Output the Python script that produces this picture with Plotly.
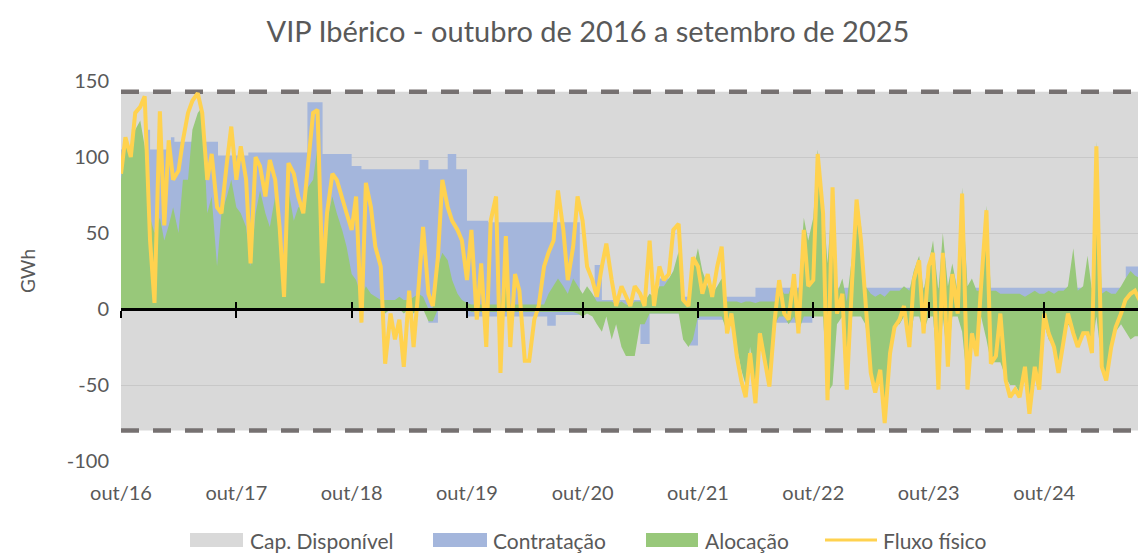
import pandas as pd
import plotly.graph_objects as go

# ---------------- data (GWh, semi-monthly readings) ----------------
start_date = "2016-10-01"
n_points = 216
dates = pd.date_range(start_date, periods=n_points, freq="SMS")

fluxo = [
    89, 113, 100, 129, 133, 140, 45, 4, 130, 55,
    111, 85, 91, 111, 129, 137, 142, 129, 85, 102,
    67, 63, 96, 120, 85, 107, 85, 30, 100, 94,
    74, 98, 85, 54, 8, 96, 89, 74, 63, 94,
    129, 131, 17, 63, 89, 85, 72, 63, 52, 74,
    -9, 83, 67, 41, 28, -36, -3, -20, -7, -38,
    12, -25, 15, 54, 10, 2, 34, 85, 67, 58,
    52, 45, 19, 52, -7, 30, -25, 58, 74, -42,
    48, -25, 23, 12, -34, -34, -7, 2, 28, 37,
    45, 78, 52, 19, 41, 74, 58, 28, 19, 8,
    28, 43, 19, 2, 15, 8, 2, 15, 10, 2,
    45, 2, 28, 19, 23, 52, 56, 6, 2, 34,
    28, 10, 23, 8, 28, 41, -16, -3, -31, -47,
    -58, -29, -62, -16, -36, -51, -7, 19, -3, -7,
    23, -16, 52, 15, 19, 102, 63, -60, 80, -3,
    10, -53, 19, 72, 45, 8, -42, -55, -40, -75,
    -29, -12, -7, 2, -25, 19, 32, -16, 28, 37,
    -53, 37, -38, 23, -3, 76, -53, -16, -31, 15,
    65, -36, -31, -3, -47, -58, -53, -58, -38, -69,
    -38, -53, -3, -16, -25, -42, -20, -3, -16, -25,
    -16, -16, -29, 107, -38, -47, -25, -12, -3, 6,
    10, 12, 5, -25, -10, 5,
]

alocacao_pos = [
    85, 107, 107, 118, 124, 107, 60, 50, 60, 45,
    55, 67, 50, 85, 85, 118, 129, 133, 63, 74,
    28, 63, 74, 85, 67, 63, 54, 28, 63, 78,
    63, 54, 74, 52, 15, 78, 58, 67, 67, 80,
    85, 107, 28, 58, 74, 63, 52, 41, 23, 19,
    8, 15, 10, 8, 6, 6, 6, 6, 8, 6,
    6, 8, 10, 8, 0, 1, 28, 37, 32, 19,
    10, 6, 4, 3, 3, 3, 3, 3, 3, 3,
    25, 3, 3, 3, 3, 3, 3, 3, 3, 10,
    15, 20, 15, 10, 20, 15, 10, 15, 10, 5,
    5, 5, 5, 3, 5, 3, 2, 5, 5, 5,
    10, 8, 15, 15, 20, 25, 38, 5, 3, 25,
    40, 25, 15, 10, 15, 20, 5, 5, 5, 4,
    5, 5, 4, 5, 5, 5, 5, 15, 10, 10,
    20, 10, 60, 45, 60, 105, 70, 30, 75, 10,
    20, 5, 35, 70, 55, 15, 10, 8, 10, 8,
    12, 12, 12, 15, 12, 25, 35, 12, 30, 45,
    12, 50, 15, 30, 12, 80, 15, 20, 12, 12,
    68, 12, 12, 10, 10, 10, 10, 10, 8, 10,
    12, 10, 10, 12, 10, 12, 12, 15, 40, 12,
    15, 35, 12, 110, 10, 12, 10, 10, 15, 20,
    25, 22, 20, 15, 12, 12,
]

alocacao_neg = [
    0, 0, 0, 0, 0, 0, 0, 0, 0, 0,
    0, 0, 0, 0, 0, 0, 0, 0, 0, 0,
    0, 0, 0, 0, 0, 0, 0, 0, 0, 0,
    0, 0, 0, 0, 0, 0, 0, 0, 0, 0,
    0, 0, 0, 0, 0, 0, 0, 0, 0, 0,
    0, 0, 0, 0, 0, -3, 0, 0, 0, -3,
    0, -3, 0, 0, -8, -8, 0, 0, 0, 0,
    0, 0, 0, -2, -2, -2, -2, -2, -2, -2,
    -2, -2, -2, -2, -2, -2, -2, -2, -2, -2,
    -2, -2, -2, -2, -2, -3, -5, -3, -5, -10,
    -15, -5, -20, -10, -25, -31, -31, -31, -10, -10,
    -3, -3, -3, -3, -3, -3, -3, -20, -25, -20,
    -5, -5, -5, -5, -5, -5, -15, -5, -25, -40,
    -50, -25, -55, -15, -30, -45, -10, -5, -5, -10,
    -5, -15, -5, -5, -5, -5, -5, -55, -50, -10,
    -5, -50, -5, -5, -5, -10, -40, -55, -45, -70,
    -30, -10, -10, -5, -25, -5, -5, -15, -5, -5,
    -50, -5, -35, -5, -5, -15, -50, -15, -30, -5,
    -20, -35, -35, -35, -45, -50, -50, -55, -40, -60,
    -40, -50, -10, -20, -25, -40, -20, -10, -15, -25,
    -15, -15, -25, -5, -35, -45, -25, -15, -10, -15,
    -20, -18, -18, -25, -15, -10,
]

# Contratação: step changes (date the level starts, level)
contr_pos_dates = ["2016-10-01", "2016-12-24", "2017-01-01", "2017-03-08", "2017-03-19",
                   "2017-08-04", "2017-11-08", "2018-05-14", "2018-07-01", "2018-10-01",
                   "2018-11-01", "2019-05-04", "2019-06-01", "2019-08-01", "2019-08-28",
                   "2019-10-01", "2019-12-07", "2020-09-22", "2020-11-08", "2020-12-01",
                   "2021-06-01", "2021-07-16", "2022-04-01", "2025-06-16", "2025-09-30"]
contr_pos_vals = [105, 118, 105, 113, 110,
                  101, 103, 136, 102, 94,
                  92, 98, 92, 102, 92,
                  58, 57, 8, 29, 6,
                  20, 8, 14, 28, 28]

contr_neg_dates = ["2016-10-01", "2019-06-01", "2019-07-01", "2019-10-01", "2020-06-11",
                   "2020-07-08", "2020-09-22", "2021-04-02", "2021-05-01", "2021-09-04",
                   "2021-10-01", "2021-12-28", "2022-05-24", "2022-09-28", "2025-09-30"]
contr_neg_vals = [0, -9, 0, -5, -11,
                  -4, -3, -23, -3, -24,
                  -7, -3, -9, -3, -3]

cap_dates = ["2016-10-01", "2025-09-30"]
cap_max = [143, 143]
cap_min = [-80, -80]

year_ticks = ["2016-10-01", "2017-10-01", "2018-10-01", "2019-10-01", "2020-10-01",
              "2021-10-01", "2022-10-01", "2023-10-01", "2024-10-01"]
year_labels = ["out/16", "out/17", "out/18", "out/19", "out/20",
               "out/21", "out/22", "out/23", "out/24"]

y_ticks = [-100, -50, 0, 50, 100, 150]
y_labels = ["-100", "-50", "0", "50", "100", "150"]

legend_names = ["Cap. Disponível", "Contratação", "Alocação", "Fluxo físico"]

x_range = ["2016-10-01", "2025-08-19"]
y_range = [-100, 150]

# ---------------- styling ----------------
FONT = "Lato"
TXT = "#595959"
GRAY_FILL = "rgba(186,186,186,0.55)"
GRAY_KEY = "#d9d9d9"
BLUE = "#a4b6dc"
GREEN = "#98c87a"
YELLOW = "#ffd24f"
DASH = "#767171"

# page body adds an 8px offset; figure is sized to end at the window edge
W, H = 1138, 547
OFF = 8
PL, PR, PT, PB = 121, 1146, 81, 461   # plot area in window pixels

fig = go.Figure()

# Capacidade disponível (gray band)
fig.add_trace(go.Scatter(x=cap_dates, y=cap_min, mode="lines", line=dict(width=0),
                         showlegend=False, hoverinfo="skip"))
fig.add_trace(go.Scatter(x=cap_dates, y=cap_max, mode="lines", line=dict(width=0),
                         fill="tonexty", fillcolor=GRAY_FILL, name=legend_names[0],
                         showlegend=False))

# Contratação
fig.add_trace(go.Scatter(x=contr_pos_dates, y=contr_pos_vals, mode="lines",
                         line=dict(width=0, shape="hv", color=BLUE), fill="tozeroy",
                         fillcolor=BLUE, name=legend_names[1], showlegend=False))
fig.add_trace(go.Scatter(x=contr_neg_dates, y=contr_neg_vals, mode="lines",
                         line=dict(width=0, shape="hv", color=BLUE), fill="tozeroy",
                         fillcolor=BLUE, name=legend_names[1], showlegend=False))

# Alocação
fig.add_trace(go.Scatter(x=dates, y=alocacao_pos, mode="lines",
                         line=dict(width=0, color=GREEN), fill="tozeroy",
                         fillcolor=GREEN, name=legend_names[2], showlegend=False))
fig.add_trace(go.Scatter(x=dates, y=alocacao_neg, mode="lines",
                         line=dict(width=0, color=GREEN), fill="tozeroy",
                         fillcolor=GREEN, name=legend_names[2], showlegend=False))

# capacity limit dashed lines
for yy in (cap_max, cap_min):
    fig.add_trace(go.Scatter(x=cap_dates, y=yy, mode="lines",
                             line=dict(color=DASH, width=4.5, dash="18px,14px"),
                             showlegend=False, hoverinfo="skip"))

# Fluxo físico
fig.add_trace(go.Scatter(x=dates, y=fluxo, mode="lines",
                         line=dict(color=YELLOW, width=4), name=legend_names[3],
                         showlegend=False))

zero_pos = (0 - y_range[0]) / (y_range[1] - y_range[0])


def px_x(X):
    return (X - PL) / (PR - PL)


def px_y(Y):
    return (PB - Y) / (PB - PT)


# legend drawn as keys + text (wide rectangular keys like the original)
key_specs = [  # (key start px, key end px, text start px, colour, kind)
    (190, 243, 248, GRAY_KEY, "rect"),
    (433, 487, 491, BLUE, "rect"),
    (646, 698, 703, GREEN, "rect"),
    (825, 877, 881, YELLOW, "line"),
]
LEG_Y = 540
shapes = []
annotations = []
for (k0, k1, t0, col, kind), name in zip(key_specs, legend_names):
    if kind == "rect":
        shapes.append(dict(type="rect", xref="paper", yref="paper",
                           x0=px_x(k0), x1=px_x(k1), y0=px_y(LEG_Y - 7), y1=px_y(LEG_Y + 7),
                           fillcolor=col, line=dict(width=0), layer="above"))
    else:
        shapes.append(dict(type="line", xref="paper", yref="paper",
                           x0=px_x(k0), x1=px_x(k1), y0=px_y(LEG_Y), y1=px_y(LEG_Y),
                           line=dict(color=col, width=3), layer="above"))
    annotations.append(dict(text=name, xref="paper", yref="paper", x=px_x(t0), y=px_y(LEG_Y),
                            xanchor="left", yanchor="middle", showarrow=False,
                            font=dict(size=21, color=TXT, family=FONT)))

fig.update_layout(
    width=W, height=H,
    margin=dict(l=PL - OFF, r=0, t=PT - OFF, b=H - (PB - OFF), autoexpand=False),
    paper_bgcolor="white", plot_bgcolor="white",
    font=dict(family=FONT, color=TXT),
    title=dict(text="VIP Ibérico - outubro de 2016 a setembro de 2025",
               x=(588 - OFF) / W, xanchor="center", xref="container",
               y=1 - (32 - OFF) / H, yanchor="middle", yref="container",
               font=dict(size=29, color=TXT, family=FONT)),
    xaxis=dict(type="date", range=x_range, tickvals=year_ticks, ticktext=year_labels,
               showgrid=False, zeroline=False, showline=False,
               ticks="outside", ticklen=14, tickcolor="rgba(0,0,0,0)",
               tickfont=dict(size=20, color=TXT, family=FONT)),
    xaxis2=dict(type="date", range=x_range, overlaying="x", anchor="free", position=zero_pos,
                tickvals=year_ticks, showticklabels=False, showgrid=False, zeroline=False,
                showline=True, linecolor="black", linewidth=2.5,
                ticks="outside", ticklen=7, tickwidth=2, tickcolor="black"),
    xaxis3=dict(type="date", range=x_range, overlaying="x", anchor="free", position=zero_pos,
                tickvals=year_ticks, showticklabels=False, showgrid=False, zeroline=False,
                showline=False, ticks="inside", ticklen=7, tickwidth=2, tickcolor="black"),
    yaxis=dict(range=y_range, tickvals=y_ticks, ticktext=y_labels,
               showgrid=True, gridcolor="#d9d9d9", gridwidth=1.3, zeroline=False,
               ticks="outside", ticklen=7, tickcolor="rgba(0,0,0,0)",
               tickfont=dict(size=20, color=TXT, family=FONT),
               title=dict(text="GWh", font=dict(size=19, color=TXT, family=FONT), standoff=26)),
    showlegend=False,
    shapes=shapes,
    annotations=annotations,
)

# invisible traces so the overlaying zero-axis renders
fig.add_trace(go.Scatter(x=cap_dates, y=[None, None], xaxis="x2", showlegend=False, hoverinfo="skip"))
fig.add_trace(go.Scatter(x=cap_dates, y=[None, None], xaxis="x3", showlegend=False, hoverinfo="skip"))

fig.write_html("out.html")
